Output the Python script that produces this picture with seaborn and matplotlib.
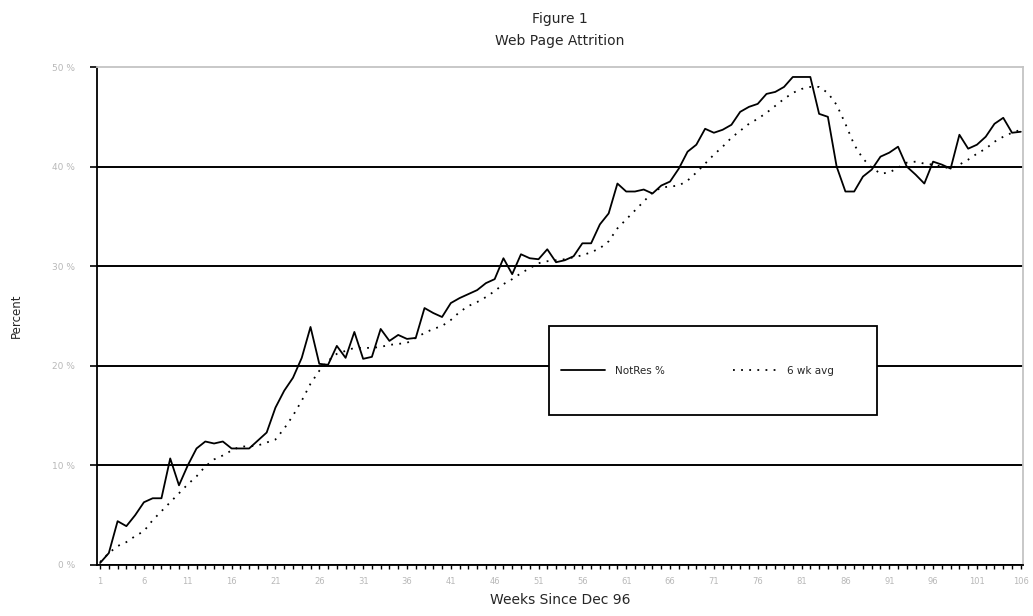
import numpy as np
import pandas as pd
import matplotlib
matplotlib.use("Agg")
import matplotlib.pyplot as plt
import seaborn as sns
from matplotlib.patches import Rectangle
from matplotlib.lines import Line2D

# weekly attrition (percent)
weeks = list(range(1, 107))
notres = [0.2, 1.2, 4.4, 3.9, 5.0, 6.3, 6.7, 6.7, 10.7, 8.0,
          10.0, 11.7, 12.4, 12.2, 12.4, 11.7, 11.7, 11.7, 12.5, 13.3,
          15.8, 17.5, 18.8, 20.8, 23.9, 20.2, 20.1, 22.0, 20.8, 23.4,
          20.7, 20.9, 23.7, 22.5, 23.1, 22.7, 22.8, 25.8, 25.3, 24.9,
          26.3, 26.8, 27.2, 27.6, 28.3, 28.7, 30.8, 29.2, 31.2, 30.8,
          30.7, 31.7, 30.4, 30.6, 31.0, 32.3, 32.3, 34.2, 35.3, 38.3,
          37.5, 37.5, 37.7, 37.3, 38.1, 38.5, 39.8, 41.5, 42.2, 43.8,
          43.4, 43.7, 44.2, 45.5, 46.0, 46.3, 47.3, 47.5, 48.0, 49.0,
          49.0, 49.0, 45.3, 45.0, 40.0, 37.5, 37.5, 39.0, 39.7, 41.0,
          41.4, 42.0, 40.0, 39.2, 38.3, 40.5, 40.2, 39.8, 43.2, 41.8,
          42.2, 43.0, 44.3, 44.9, 43.4, 43.5]
avg6 = [0.3, 1.2, 1.9, 2.3, 2.9, 3.4, 4.5, 5.4, 6.3, 7.2,
        8.1, 8.9, 9.9, 10.6, 11.0, 11.5, 11.9, 11.9, 12.0, 12.3,
        12.6, 13.7, 15.0, 16.5, 18.2, 19.5, 20.5, 21.2, 21.5, 21.8,
        21.8, 21.8, 21.9, 22.1, 22.2, 22.3, 22.8, 23.3, 23.7, 24.0,
        24.6, 25.4, 26.0, 26.4, 26.9, 27.5, 28.2, 28.7, 29.3, 29.8,
        30.3, 30.5, 30.6, 30.7, 30.9, 31.1, 31.4, 31.8, 32.5, 33.8,
        34.7, 35.6, 36.5, 37.4, 37.9, 38.0, 38.1, 38.6, 39.4, 40.3,
        41.2, 42.0, 42.9, 43.6, 44.3, 44.8, 45.4, 46.1, 46.8, 47.4,
        47.8, 48.0, 48.0, 47.4, 46.2, 44.3, 42.2, 40.8, 39.9, 39.3,
        39.4, 39.9, 40.4, 40.5, 40.3, 40.2, 40.0, 39.8, 40.2, 40.7,
        41.3, 41.8, 42.5, 43.0, 43.4, 43.7]
week_labels = list(range(1, 107, 5))
pct_ticks = [0, 10, 20, 30, 40, 50]

df = pd.DataFrame({"week": weeks, "NotRes %": notres, "6 wk avg": avg6})

sns.set_style("white")
plt.rcParams['font.family'] = ['DejaVu Sans']

fig = plt.figure(figsize=(10.33, 6.16), dpi=100)
ax = fig.add_axes([0.0939, 0.0828, 0.8964, 0.8084])

dotted = (0, (1, 3.5))
sns.lineplot(data=df, x="week", y="NotRes %", color="black", lw=1.3, ax=ax, zorder=2)
sns.lineplot(data=df, x="week", y="6 wk avg", color="black", lw=1.3,
             linestyle=dotted, ax=ax, zorder=2)

ax.set_xlim(0.65, 106.25)
ax.set_ylim(0, 50)

# y axis: black horizontal gridlines, gray labels
ax.set_yticks(pct_ticks)
ax.set_yticklabels([f"{p} %" for p in pct_ticks])
ax.grid(axis="y", color="black", lw=1.4)
ax.grid(axis="x", visible=False)
ax.yaxis.get_gridlines()[-1].set_visible(False)
ax.tick_params(axis="y", direction="out", length=5, width=1.2, color="black",
               labelsize=6.5, labelcolor="#b8b8b8", pad=11, left=True)

# x axis: tick each week, label every 5th
ax.set_xticks(week_labels)
ax.set_xticks(weeks, minor=True)
ax.tick_params(axis="x", which="both", direction="out", length=3, width=1,
               color="black", labelsize=6, labelcolor="#b8b8b8", pad=6, bottom=True)

for side in ["left", "bottom"]:
    ax.spines[side].set_color("black")
    ax.spines[side].set_linewidth(1.3)
for side in ["top", "right"]:
    ax.spines[side].set_color("#c4c4c4")
    ax.spines[side].set_linewidth(1.3)

ax.set_xlabel("Weeks Since Dec 96", fontsize=10)
ax.xaxis.set_label_coords(0.5, -0.056)
ax.set_ylabel("Percent", fontsize=8.5)
ax.yaxis.set_label_coords(-0.080, 0.5)
ax.set_title("Figure 1\nWeb Page Attrition", fontsize=10, linespacing=1.7, pad=16)

# legend box
ax.add_patch(Rectangle((0.488, 0.301), 0.354, 0.179, transform=ax.transAxes,
                       facecolor="white", edgecolor="black", lw=1.3, zorder=3))
handles = [Line2D([], [], color="black", lw=1.3),
           Line2D([], [], color="black", lw=1.3, linestyle=dotted)]
ax.legend(handles, ["NotRes %", "6 wk avg"], loc="center left",
          bbox_to_anchor=(0.501, 0.39), ncol=2, frameon=False, fontsize=7.5,
          handlelength=4.2, handletextpad=1.0, columnspacing=6.5,
          borderpad=0, borderaxespad=0)

fig.savefig("out.png", dpi=100)
